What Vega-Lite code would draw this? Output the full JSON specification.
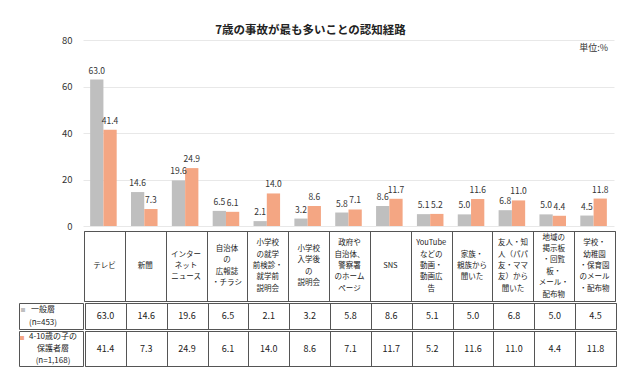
{
  "$schema": "https://vega.github.io/schema/vega-lite/v6.json",
  "background": "white",
  "padding": {"left": 18, "top": 24, "right": 20, "bottom": 10},
  "autosize": {"type": "pad"},
  "config": {
    "font": "'Liberation Sans Narrow', 'Noto Sans CJK JP', sans-serif",
    "view": {"stroke": null},
    "concat": {"spacing": 0},
    "text": {"color": "#222"}
  },
  "title": {
    "text": "7歳の事故が最も多いことの認知経路",
    "font": "Noto Sans CJK JP",
    "fontSize": 11.5,
    "fontWeight": "bold",
    "color": "#222",
    "anchor": "middle",
    "dx": -7,
    "offset": -1
  },
  "datasets": {
    "d": [
      {"cat": "テレビ", "group": "一般層", "value": 63.0},
      {"cat": "テレビ", "group": "4-10歳の子の保護者層", "value": 41.4},
      {"cat": "新聞", "group": "一般層", "value": 14.6},
      {"cat": "新聞", "group": "4-10歳の子の保護者層", "value": 7.3},
      {"cat": "インター\nネット\nニュース", "group": "一般層", "value": 19.6},
      {"cat": "インター\nネット\nニュース", "group": "4-10歳の子の保護者層", "value": 24.9},
      {"cat": "自治体\nの\n広報誌\n・チラシ", "group": "一般層", "value": 6.5},
      {"cat": "自治体\nの\n広報誌\n・チラシ", "group": "4-10歳の子の保護者層", "value": 6.1},
      {"cat": "小学校\nの就学\n前検診・\n就学前\n説明会", "group": "一般層", "value": 2.1},
      {"cat": "小学校\nの就学\n前検診・\n就学前\n説明会", "group": "4-10歳の子の保護者層", "value": 14.0},
      {"cat": "小学校\n入学後\nの\n説明会", "group": "一般層", "value": 3.2},
      {"cat": "小学校\n入学後\nの\n説明会", "group": "4-10歳の子の保護者層", "value": 8.6},
      {"cat": "政府や\n自治体、\n警察署\nのホーム\nページ", "group": "一般層", "value": 5.8},
      {"cat": "政府や\n自治体、\n警察署\nのホーム\nページ", "group": "4-10歳の子の保護者層", "value": 7.1},
      {"cat": "SNS", "group": "一般層", "value": 8.6},
      {"cat": "SNS", "group": "4-10歳の子の保護者層", "value": 11.7},
      {"cat": "YouTube\nなどの\n動画・\n動画広\n告", "group": "一般層", "value": 5.1},
      {"cat": "YouTube\nなどの\n動画・\n動画広\n告", "group": "4-10歳の子の保護者層", "value": 5.2},
      {"cat": "家族・\n親族から\n聞いた", "group": "一般層", "value": 5.0},
      {"cat": "家族・\n親族から\n聞いた", "group": "4-10歳の子の保護者層", "value": 11.6},
      {"cat": "友人・知\n人（パパ\n友・ママ\n友）から\n聞いた", "group": "一般層", "value": 6.8},
      {"cat": "友人・知\n人（パパ\n友・ママ\n友）から\n聞いた", "group": "4-10歳の子の保護者層", "value": 11.0},
      {"cat": "地域の\n掲示板\n・回覧\n板・\nメール・\n配布物", "group": "一般層", "value": 5.0},
      {"cat": "地域の\n掲示板\n・回覧\n板・\nメール・\n配布物", "group": "4-10歳の子の保護者層", "value": 4.4},
      {"cat": "学校・\n幼稚園\n・保育園\nのメール\n・配布物", "group": "一般層", "value": 4.5},
      {"cat": "学校・\n幼稚園\n・保育園\nのメール\n・配布物", "group": "4-10歳の子の保護者層", "value": 11.8}
    ]
  },
  "resolve": {"scale": {"x": "independent", "y": "independent", "color": "independent"}},
  "spacing": -5,
  "vconcat": [
    {
      "spacing": 0,
      "resolve": {"scale": {"x": "independent", "y": "independent"}},
      "hconcat": [
        {
          "width": 30, "height": 186,
          "data": {"values": [{"t": ""}]},
          "mark": {"type": "text"},
          "encoding": {"text": {"field": "t"}}
        },
        {
          "width": 531,
          "height": 186,
          "data": {"name": "d"},
          "title": {"text": "単位:%", "anchor": "end", "offset": -18, "dx": -6, "fontSize": 9, "fontWeight": "normal", "color": "#333", "font": "Noto Sans CJK JP"},
          "encoding": {
            "x": {"field": "cat", "type": "nominal", "sort": null, "scale": {"paddingInner": 0.35, "paddingOuter": 0.175}, "axis": null},
            "xOffset": {"field": "group", "type": "nominal", "sort": null, "scale": {"paddingInner": 0, "paddingOuter": 0}},
            "y": {
              "field": "value", "type": "quantitative",
              "scale": {"domain": [0, 80], "nice": false},
              "axis": {"values": [0, 20, 40, 60, 80], "grid": true, "gridColor": "#e8e8e8", "domain": false, "ticks": false, "labelPadding": 11, "minExtent": 34, "maxExtent": 34, "title": null, "labelFontSize": 9.5, "labelColor": "#333"}
            }
          },
          "layer": [
            {
              "mark": {"type": "bar"},
              "encoding": {
                "color": {"field": "group", "type": "nominal", "sort": null, "scale": {"domain": ["一般層", "4-10歳の子の保護者層"], "range": ["#bfbfbf", "#f4a683"]}, "legend": null}
              }
            },
            {
              "mark": {"type": "text", "baseline": "bottom", "dy": -4, "fontSize": 8.5, "color": "#333"},
              "encoding": {"text": {"field": "value", "type": "quantitative", "format": ".1f"}}
            }
          ]
        }
      ]
    },
    {
      "spacing": 0,
      "resolve": {"scale": {"x": "independent"}},
      "vconcat": [
        {
          "spacing": 0,
          "resolve": {"scale": {"x": "independent"}},
          "hconcat": [
            {
              "width": 64, "height": 70,
              "data": {"values": [{"t": ""}]},
              "mark": {"type": "text"},
              "encoding": {"text": {"field": "t"}}
            },
            {
              "width": 531, "height": 70,
              "view": {"stroke": "#555"},
              "data": {"name": "d"},
              "transform": [{"filter": "datum.group === '一般層'"}],
              "mark": {"type": "text", "lineBreak": "\n", "fontSize": 7.5, "lineHeight": 11.4, "baseline": "middle", "font": "Noto Sans CJK JP", "dy": {"expr": "-(length(split(datum.cat, '\\n')) - 1) * 5.7"}},
              "encoding": {
                "x": {"field": "cat", "type": "nominal", "sort": null, "scale": {"paddingInner": 0, "paddingOuter": 0}, "axis": {"labels": false, "ticks": false, "domain": false, "grid": true, "tickBand": "extent", "gridColor": "#555", "gridOpacity": 1, "title": null}},
                "text": {"field": "cat"}
              }
            }
          ]
        },
        {
          "spacing": 0,
          "resolve": {"scale": {"x": "independent"}},
          "hconcat": [
            {
              "width": 64, "height": 26,
              "view": {"stroke": "#555"},
              "data": {"values": [{"label": "一般層\n(n=453)"}]},
              "layer": [
                {"mark": {"type": "text", "lineBreak": "\n", "fontSize": 8, "lineHeight": 13, "dx": -8, "dy": -6.5, "baseline": "middle"}, "encoding": {"text": {"field": "label"}}},
                {"mark": {"type": "text", "text": "■", "fontSize": 5, "dx": -28, "dy": -7, "color": "#bfbfbf", "baseline": "middle"}, "encoding": {}}
              ]
            },
            {
              "width": 531, "height": 26,
              "view": {"stroke": "#555"},
              "data": {"name": "d"},
              "transform": [{"filter": "datum.group === '一般層'"}],
              "mark": {"type": "text", "fontSize": 9, "baseline": "middle"},
              "encoding": {
                "x": {"field": "cat", "type": "nominal", "sort": null, "scale": {"paddingInner": 0, "paddingOuter": 0}, "axis": {"labels": false, "ticks": false, "domain": false, "grid": true, "tickBand": "extent", "gridColor": "#555", "gridOpacity": 1, "title": null}},
                "text": {"field": "value", "type": "quantitative", "format": ".1f"}
              }
            }
          ]
        },
        {
          "spacing": 0,
          "resolve": {"scale": {"x": "independent"}},
          "hconcat": [
            {
              "width": 64, "height": 35,
              "view": {"stroke": "#555"},
              "data": {"values": [{"label": "4-10歳の子の\n保護者層\n(n=1,168)"}]},
              "layer": [
                {"mark": {"type": "text", "lineBreak": "\n", "fontSize": 8, "lineHeight": 12, "dx": 2, "dy": -12, "baseline": "middle"}, "encoding": {"text": {"field": "label"}}},
                {"mark": {"type": "text", "text": "■", "fontSize": 5, "dx": -29, "dy": -12, "color": "#f4a683", "baseline": "middle"}, "encoding": {}}
              ]
            },
            {
              "width": 531, "height": 35,
              "view": {"stroke": "#555"},
              "data": {"name": "d"},
              "transform": [{"filter": "datum.group !== '一般層'"}],
              "mark": {"type": "text", "fontSize": 9, "baseline": "middle"},
              "encoding": {
                "x": {"field": "cat", "type": "nominal", "sort": null, "scale": {"paddingInner": 0, "paddingOuter": 0}, "axis": {"labels": false, "ticks": false, "domain": false, "grid": true, "tickBand": "extent", "gridColor": "#555", "gridOpacity": 1, "title": null}},
                "text": {"field": "value", "type": "quantitative", "format": ".1f"}
              }
            }
          ]
        }
      ]
    }
  ]
}
